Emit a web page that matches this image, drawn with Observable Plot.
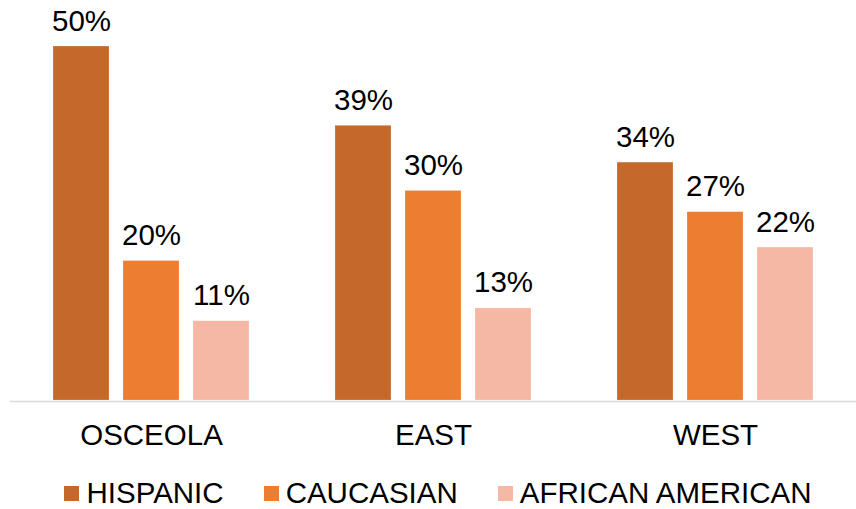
<!DOCTYPE html>
<html>
<head>
<meta charset="utf-8">
<script src="https://cdn.jsdelivr.net/npm/d3@7"></script>
<script src="https://cdn.jsdelivr.net/npm/@observablehq/plot@0.6"></script>
<style>
  body { margin: 0; background: #fff; font-family: "Liberation Sans", Arial, sans-serif; }
  #legend { display: flex; justify-content: center; align-items: center; height: 46px; font-size: 29.5px; color: #000; padding-left: 20px; }
  #legend .item { display: flex; align-items: center; margin-right: 40px; }
  #legend .item:last-child { margin-right: 0; }
  #legend .sw { width: 15px; height: 15px; margin-right: 7px; }
</style>
</head>
<body>
<div id="chart"></div>
<script>
const regions = ["OSCEOLA", "EAST", "WEST"];
const groups = ["HISPANIC", "CAUCASIAN", "AFRICAN AMERICAN"];
const colors = ["#C4682B", "#ED7D31", "#F4B8A4"];
const hispanic = [0.500, 0.388, 0.336];
const caucasian = [0.197, 0.296, 0.266];
const africanAmerican = [0.112, 0.130, 0.216];

const series = [hispanic, caucasian, africanAmerican];
const data = [];
regions.forEach((r, i) => {
  groups.forEach((g, j) => {
    data.push({region: r, group: g, value: series[j][i]});
  });
});

const fmt = d => Math.round(d * 100) + "%";

const chart = Plot.plot({
  width: 856,
  height: 470,
  marginLeft: 10,
  marginRight: 0,
  marginTop: 46,
  marginBottom: 70,
  style: {fontFamily: '"Liberation Sans", Arial, sans-serif', background: "#fff"},
  fx: {domain: regions, padding: 0, label: null},
  x: {domain: groups, paddingInner: 0.206, paddingOuter: 0.603, axis: null},
  y: {domain: [0, 0.5], axis: null},
  color: {domain: groups, range: colors},
  marks: [
    Plot.barY(data, {fx: "region", x: "group", y: "value", fill: "group", stroke: "#fff", strokeOpacity: 0.35, strokeWidth: 0.6}),
    Plot.ruleY([0], {stroke: "#D9D9D9", strokeWidth: 1.5, dy: 1}),
    Plot.text(data, {fx: "region", x: "group", y: "value", text: d => fmt(d.value), lineAnchor: "bottom", dy: -16, fontSize: 29.5, fill: "#000"}),
    Plot.axisFx({anchor: "bottom", tickSize: 0, tickPadding: 24, fontSize: 29.5, label: null, fill: "#000"})
  ]
});
document.getElementById("chart").appendChild(chart);

const legend = document.createElement("div");
legend.id = "legend";
groups.forEach((g, i) => {
  const item = document.createElement("div");
  item.className = "item";
  const sw = document.createElement("div");
  sw.className = "sw";
  sw.style.background = colors[i];
  const t = document.createElement("span");
  t.textContent = g;
  item.appendChild(sw);
  item.appendChild(t);
  legend.appendChild(item);
});
document.body.appendChild(legend);
</script>
</body>
</html>
